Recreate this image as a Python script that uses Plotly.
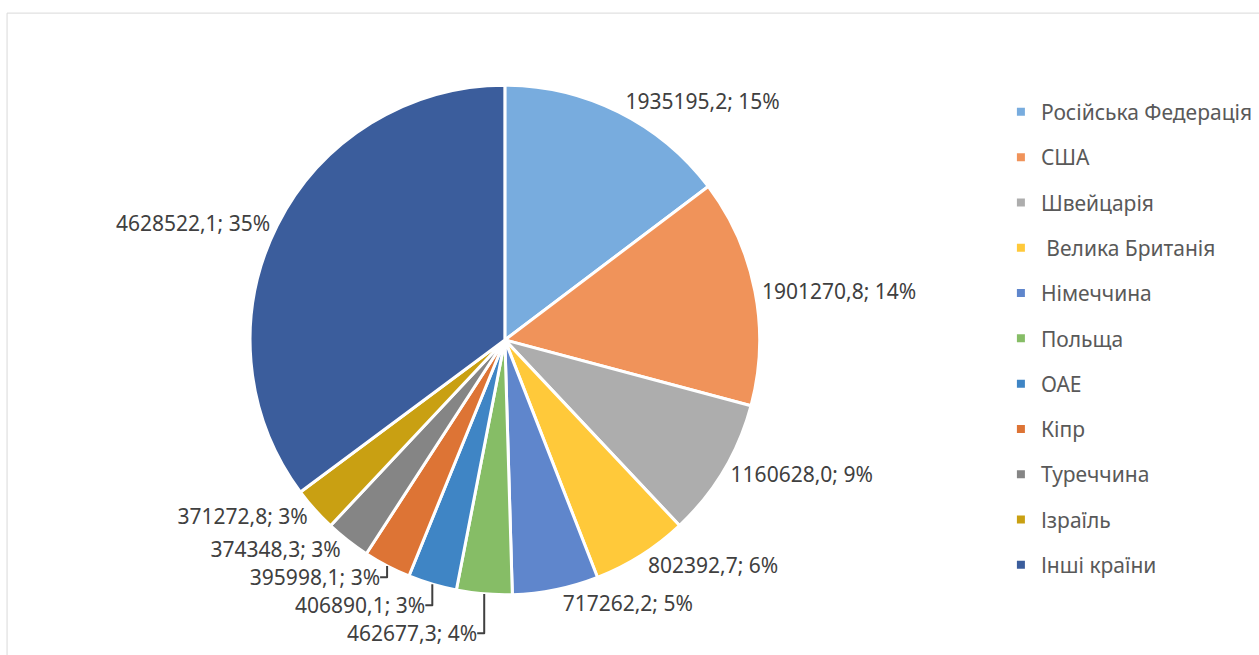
import plotly.graph_objects as go

# Дані діаграми
countries = [
    "Російська Федерація",
    "США",
    "Швейцарія",
    " Велика Британія",
    "Німеччина",
    "Польща",
    "ОАЕ",
    "Кіпр",
    "Туреччина",
    "Ізраїль",
    "Інші країни",
]
values = [
    1935195.2,
    1901270.8,
    1160628.0,
    802392.7,
    717262.2,
    462677.3,
    406890.1,
    395998.1,
    374348.3,
    371272.8,
    4628522.1,
]
colors = [
    "#78ACDE", "#F0935A", "#ADADAD", "#FFC93A", "#5F86CC", "#86BD66",
    "#3F85C5", "#DD7435", "#858585", "#C9A012", "#3B5D9C",
]

total = sum(values)
labels_txt = [
    f"{v:.1f}".replace(".", ",") + f"; {round(v / total * 100):.0f}%" for v in values
]

fig = go.Figure()
fig.add_trace(
    go.Pie(
        labels=countries,
        values=values,
        text=labels_txt,
        textinfo="text",
        textposition="outside",
        sort=False,
        direction="clockwise",
        rotation=0,
        marker=dict(colors=colors, line=dict(color="white", width=3)),
        outsidetextfont=dict(size=21, color="#404040", family="Noto Sans"),
        domain=dict(x=[0.151, 0.651], y=[0.092, 0.870]),
        hoverinfo="label+value+percent",
        showlegend=False,
    )
)

# легенда окремими слідами, щоб задати інтервал між рядками
for name, col in zip(countries, colors):
    fig.add_trace(
        go.Scatter(
            x=[None],
            y=[None],
            mode="markers",
            name=name,
            legendgroup=name,
            marker=dict(symbol="square", size=8, color=col),
            showlegend=True,
        )
    )

# рамка області діаграми
fig.add_shape(
    type="rect",
    xref="paper",
    yref="paper",
    x0=0.0056,
    x1=1.01,
    y0=-0.01,
    y1=0.98,
    line=dict(color="#D9D9D9", width=1),
    fillcolor="rgba(0,0,0,0)",
    layer="below",
)

fig.update_layout(
    width=1259,
    height=655,
    paper_bgcolor="white",
    plot_bgcolor="white",
    margin=dict(t=0, b=0, l=0, r=0, autoexpand=False),
    font=dict(family="Noto Sans", color="#595959"),
    xaxis=dict(visible=False),
    yaxis=dict(visible=False),
    legend=dict(
        x=0.795,
        y=0.86,
        xanchor="left",
        yanchor="top",
        font=dict(size=21, color="#595959"),
        tracegroupgap=15,
        itemwidth=30,
        bgcolor="rgba(0,0,0,0)",
    ),
)
fig.write_html(
    "out.html",
    config={"displayModeBar": False},
    post_script="document.body.style.margin='0';",
)
